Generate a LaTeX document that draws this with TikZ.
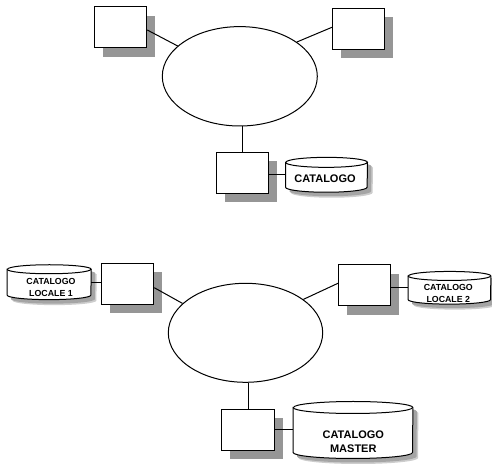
\documentclass[tikz,border=0pt]{standalone}
\usepackage{fontspec}
\setmainfont{Liberation Sans}
\usetikzlibrary{shapes.geometric,shadows}
\definecolor{boxshade}{RGB}{150,150,150}
\definecolor{drumshade}{RGB}{165,165,165}
\definecolor{drumhalo}{RGB}{205,205,205}
\pgfdeclarelayer{shade}
\pgfdeclarelayer{body}
\pgfsetlayers{shade,body,main}
\tikzset{
  host/.style={draw, line width=1pt, fill=white, inner sep=0,
    minimum width=52.5pt, minimum height=41pt,
    drop shadow={shadow xshift=8.5pt, shadow yshift=-9pt, fill=boxshade, opacity=1}},
  net/.style={draw, ellipse, line width=1pt, fill=white, inner sep=0},
  store/.style={inner sep=0},
  storetext/.style={font=\bfseries, align=center, inner sep=0},
  bigtext/.style={font=\bfseries\fontsize{11}{13.5}\selectfont},
  smalltext/.style={font=\bfseries\fontsize{8.8}{11.6}\selectfont},
  drumline/.style={line width=1pt},
  link/.style={line width=1pt},
}
% soft shadow of a cylinder: #1 node, #2 half width, #3 cap radius, #4 offset, #5 colour
\newcommand\drumshadow[5]{%
  \fill[#5]
    ([shift={#4},yshift=-#3]#1.north west)
    -- ([shift={#4},yshift=#3]#1.south west)
    arc[start angle=180,end angle=360,x radius=#2,y radius=#3]
    -- ([shift={#4},yshift=-#3]#1.north east)
    arc[start angle=0,end angle=180,x radius=#2,y radius=#3]
    -- cycle;}
% cylinder outline around an empty node: #1 node, #2 half width, #3 cap radius
\newcommand\drum[3]{%
  \begin{pgfonlayer}{shade}
    \drumshadow{#1}{#2}{#3}{(5.5pt,-5.5pt)}{drumhalo}
    \drumshadow{#1}{#2}{#3}{(4pt,-4pt)}{drumshade}
  \end{pgfonlayer}
  \begin{pgfonlayer}{body}
    \draw[drumline,fill=white]
      ([yshift=-#3]#1.north west)
      -- ([yshift=#3]#1.south west)
      arc[start angle=180,end angle=360,x radius=#2,y radius=#3]
      -- ([yshift=-#3]#1.north east)
      arc[start angle=0,end angle=180,x radius=#2,y radius=#3]
      -- cycle;
    \draw[drumline] ([yshift=-#3]#1.north west)
      arc[start angle=180,end angle=360,x radius=#2,y radius=#3];
  \end{pgfonlayer}}
\begin{document}
\begin{tikzpicture}[x=1pt,y=1pt]
  \useasboundingbox (0,0) rectangle (492,465);
  \begin{pgfonlayer}{shade}
    \fill[white] (0,0) rectangle (492,465);
  \end{pgfonlayer}

  % single catalogue
  \node[host] (A) at (120.5,437.5) {};
  \node[host] (B) at (358.7,436.2) {};
  \node[net, minimum width=155pt, minimum height=99.4pt] (E1) at (239.8,388.7) {};
  \node[host] (C) at (242.5,292.2) {};
  \node[store, minimum width=81.6pt, minimum height=34.5pt] (D) at (326.5,290.2) {};
  \drum{D}{40.8pt}{5pt}
  \node[storetext, bigtext] (Dt) at (325,286.7) {CATALOGO};

  % local catalogues and master
  \node[store, minimum width=83.7pt, minimum height=34.5pt] (F) at (49.2,182.8) {};
  \drum{F}{41.85pt}{4.5pt}
  \node[storetext, smalltext] (Ft) at (51,177.5) {CATALOGO\\LOCALE 1};
  \node[host] (G) at (127.5,181.2) {};
  \node[net, minimum width=154.4pt, minimum height=99pt] (E2) at (245.5,132.2) {};
  \node[host] (H) at (364.7,179.5) {};
  \node[store, minimum width=82.4pt, minimum height=32.3pt] (I) at (449.5,177.2) {};
  \drum{I}{41.2pt}{4.5pt}
  \node[storetext, smalltext] (It) at (448.3,171.7) {CATALOGO\\LOCALE 2};
  \node[host] (J) at (248.2,35.3) {};
  \node[store, minimum width=119.4pt, minimum height=56.6pt] (K) at (353,35) {};
  \drum{K}{59.7pt}{6pt}
  \node[storetext, bigtext] (Kt) at (353.3,23.3) {CATALOGO\\MASTER};

  % connections
  \draw[link] ([yshift=-2.5pt]A.east) -- (E1.154);
  \draw[link] ([yshift=1.5pt]B.west) -- (E1.31);
  \draw[link] (C.north) -- (C.north |- E1.south);
  \draw[link] (D.west -| C.east) -- (D.west);
  \draw[link] (F.east) -- (F.east -| G.west);
  \draw[link] ([yshift=-3.9pt]G.east) -- (E2.155);
  \draw[link] ([yshift=2.2pt]H.west) -- (E2.30);
  \draw[link] (I.west -| H.east) -- (I.west);
  \draw[link] (J.north) -- (J.north |- E2.south);
  \draw[link] (J.east) -- (J.east -| K.west);
\end{tikzpicture}
\end{document}
